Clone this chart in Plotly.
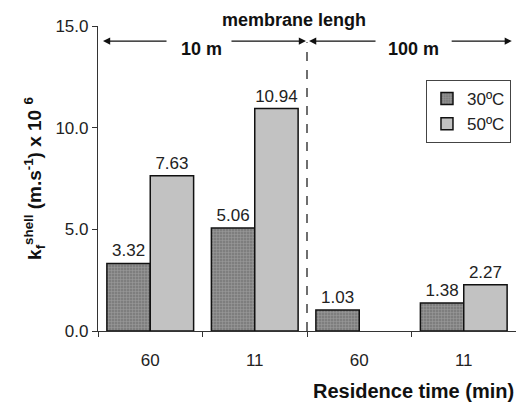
import plotly.graph_objects as go

categories = ["60", "11", "60", "11"]
x_pos = [0, 1, 2, 3]
t30 = [3.32, 5.06, 1.03, 1.38]
t50 = [7.63, 10.94, None, 2.27]
series_names = ["30ºC", "50ºC"]
y_ticks = [0, 5, 10, 15]

FONT = "Liberation Sans, Arial, sans-serif"

fig = go.Figure()
fig.add_trace(go.Bar(
    x=x_pos, y=t30, name=series_names[0],
    marker=dict(color="#8c8c8c", line=dict(color="#111", width=1.5),
                pattern=dict(shape="+", fgcolor="#b8b8b8", bgcolor="#7e7e7e", size=3, solidity=0.35)),
    text=[f"{v:.2f}" for v in t30], textposition="outside",
    textfont=dict(size=17, color="#222"), cliponaxis=False,
))
fig.add_trace(go.Bar(
    x=x_pos, y=t50, name=series_names[1],
    marker=dict(color="#c2c2c2", line=dict(color="#111", width=1.5)),
    text=[f"{v:.2f}" if v is not None else "" for v in t50], textposition="outside",
    textfont=dict(size=17, color="#222"), cliponaxis=False,
))
# invisible trace for boundary tick axis
fig.add_trace(go.Scatter(x=[-0.5, 3.5], y=[0, 0], xaxis="x2", mode="markers",
                         marker=dict(opacity=0), showlegend=False, hoverinfo="skip"))

fig.update_layout(
    width=516, height=403,
    margin=dict(l=98, r=0, t=26, b=72),
    paper_bgcolor="white", plot_bgcolor="white",
    barmode="group", bargap=0.17, bargroupgap=0,
    font=dict(family=FONT, size=17, color="#222"),
    showlegend=True,
    legend=dict(x=0.988, y=0.823, xanchor="right", yanchor="top",
                bgcolor="white", bordercolor="#444", borderwidth=1,
                font=dict(size=17, color="#222"), tracegroupgap=4,
                itemwidth=30),
    xaxis=dict(range=[-0.5, 3.5], tickvals=x_pos, ticktext=categories,
               ticks="outside", ticklen=13, tickcolor="rgba(0,0,0,0)",
               showline=True, linecolor="#333", linewidth=1.2, showgrid=False,
               zeroline=False, tickfont=dict(size=17, color="#222"), automargin=False),
    xaxis2=dict(range=[-0.5, 3.5], overlaying="x", anchor="y", side="bottom",
                tickvals=[-0.5, 0.5, 1.5, 2.5, 3.5], ticks="outside", ticklen=5,
                tickcolor="#333", showticklabels=False, showgrid=False, zeroline=False,
                showline=False),
    yaxis=dict(range=[0, 15], tickvals=y_ticks, tickformat=".1f", ticks="outside",
               ticklen=5, tickcolor="#333", showline=True, linecolor="#333", linewidth=1.2,
               showgrid=False, zeroline=False, tickfont=dict(size=17, color="#222"),
               automargin=False,
               title=dict(text="<b>k<sub>f</sub><sup>shell</sup> (m.s<sup>-1</sup>) x 10 <sup>6</sup></b>",
                          font=dict(size=19, color="#111"), standoff=8)),
)

# dashed separator
fig.add_shape(type="line", x0=1.5, x1=1.5, y0=0, y1=14.2, xref="x", yref="y",
              line=dict(color="#222", width=1.3, dash="dash"))

arrow_y = 14.26
arrows = [(0.17, -0.452), (0.763, 1.49), (2.17, 1.52), (2.87, 3.46)]
for tail, head in arrows:
    fig.add_annotation(x=head, y=arrow_y, ax=tail, ay=arrow_y, xref="x", yref="y",
                       axref="x", ayref="y", text="", showarrow=True, arrowhead=2,
                       arrowsize=1.1, arrowwidth=1.3, arrowcolor="#111")

fig.add_annotation(x=0.486, y=13.85, xref="x", yref="y", text="<b>10 m</b>", showarrow=False,
                   yanchor="middle", font=dict(size=18, color="#111"))
fig.add_annotation(x=2.52, y=13.85, xref="x", yref="y", text="<b>100 m</b>", showarrow=False,
                   yanchor="middle", font=dict(size=18, color="#111"))
fig.add_annotation(x=1.38, y=1.02, xref="x", yref="paper", text="<b>membrane lengh</b>",
                   showarrow=False, yanchor="middle", font=dict(size=18, color="#111"))
fig.add_annotation(x=1.0, y=-0.197, xref="paper", yref="paper", xanchor="right",
                   yanchor="middle", text="<b>Residence time (min)</b>", showarrow=False,
                   font=dict(size=20, color="#111"))

fig.write_html("out.html")
